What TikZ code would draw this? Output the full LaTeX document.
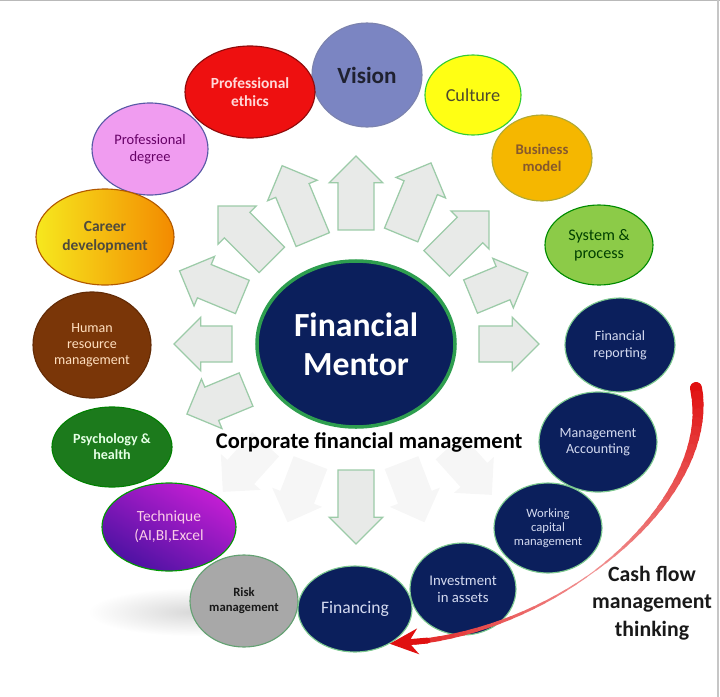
\documentclass[tikz,border=0pt]{standalone}
\usepackage{fontspec}
\setmainfont{Carlito}
\usepackage{xcolor}
\usepackage{tikz}
\usetikzlibrary{arrows.meta}
\usetikzlibrary{shapes.geometric}
\usetikzlibrary{shapes.arrows}
\usetikzlibrary{positioning}
\definecolor{azul}{HTML}{0B1F5C}
\definecolor{contorno}{HTML}{7CC98F}
\definecolor{verdeforte}{HTML}{2E9E4F}
\definecolor{textoazul}{HTML}{D4DAF0}
\definecolor{setaverde}{HTML}{9CCBA8}
\definecolor{setacinza}{HTML}{E8EAE8}
\definecolor{vermelho}{HTML}{E01010}
\definecolor{cvis}{HTML}{7B85C2}
\definecolor{ceth}{HTML}{EE1010}
\definecolor{cdeg}{HTML}{F09CF0}
\definecolor{ccarA}{HTML}{F6E81E}
\definecolor{ccarB}{HTML}{F38A00}
\definecolor{chrm}{HTML}{7A3608}
\definecolor{cpsy}{HTML}{1C7A1C}
\definecolor{ctecA}{HTML}{C41ED4}
\definecolor{ctecB}{HTML}{4C12A2}
\definecolor{crisk}{HTML}{A8A8A8}
\definecolor{csys}{HTML}{8CCB48}
\definecolor{cbm}{HTML}{F5B700}
\definecolor{ccul}{HTML}{FFFF14}
\newcommand{\tam}[2]{\fontsize{#1}{#2}\selectfont}
\tikzset{
  bolha/.style 2 args={ellipse, minimum width=#1, minimum height=#2, inner sep=0pt, align=center, line width=0.8pt},
  escura/.style={fill=azul, draw=contorno, text=textoazul},
  bloco/.style={single arrow, draw=setaverde, fill=setacinza, line width=0.9pt, inner xsep=0pt, inner ysep=0.435cm, single arrow head extend=0.22cm, minimum height=#1},
  bloco/.default=1.7cm,
  blocofraco/.style={bloco=#1, draw=none, fill=gray!7},
  blocofraco/.default=1.7cm,
  fluxo/.style={draw=vermelho!#1!white, line cap=round},
}

\begin{document}
\begin{tikzpicture}
  \useasboundingbox (0,0) rectangle (18,-17.425);
  % sombra
  \shade[inner color=gray!30, outer color=white] (4.8,-15.3) ellipse (2.6cm and 0.6cm);
  % centro
  \node[bolha={4.95cm}{4.15cm}, fill=azul, draw=verdeforte, line width=2.5pt, text=white, font=\bfseries\tam{24}{28}] (mentor) at (8.9,-8.6) {Financial\\Mentor};
  % setas em bloco
  \foreach \a/\l/\r [count=\k] in {0/1.5/3.6, 22.5/1.55/3.65, 45/1.85/3.55, 67.5/1.95/3.7, 90/1.85/3.55, 112.5/2.0/3.6, 135/1.9/3.7, 157.5/1.7/3.7, 180/1.45/3.6, 202.5/1.6/3.55, 270/1.85/3.85}
    \node[bloco=\l cm, rotate=\a] (bl\k) at ([shift={(\a:\r)}]mentor.center) {};
  \foreach \a/\r [count=\k] in {228/3.95, 249/3.75, 291/3.75, 312/4.05}
    \node[blocofraco=1.6cm, rotate=\a] (bf\k) at ([shift={(\a:\r)}]mentor.center) {};
  \node[below=0.1cm of mentor, xshift=0.33cm, inner sep=0pt, font=\bfseries\tam{16}{19}] (cfm) {Corporate financial management};
  % bolhas
  \node[bolha={2.75cm}{2.6cm}, fill=cvis, draw=cvis!70!gray, text=cvis!25!black, font=\bfseries\tam{16.5}{19}] (vis) at (9.175,-1.875) {Vision};
  \node[bolha={3.25cm}{2.3cm}, fill=ceth, draw=ceth!60!black, text=red!15!white, font=\bfseries\tam{11}{13}] (eth) at (6.25,-2.3) {Professional\\ethics};
  \node[bolha={2.9cm}{2.3cm}, fill=cdeg, draw=blue!30!gray, text=violet!80!black, font=\tam{10.3}{12.5}] (deg) at (3.75,-3.725) {Professional\\degree};
  \node[bolha={3.45cm}{2.4cm}, left color=ccarA, right color=ccarB, draw=orange!70!black, text=black!80!yellow, font=\bfseries\tam{11}{13.5}] (car) at (2.625,-5.925) {Career\\development};
  \node[bolha={2.95cm}{2.65cm}, fill=chrm, draw=chrm!80!black, text=orange!25!white, font=\tam{10}{11.5}] (hrm) at (2.3,-8.625) {Human\\resource\\management};
  \node[bolha={3.0cm}{2.0cm}, fill=cpsy, draw=green!50!black, text=green!10!white, font=\bfseries\tam{10}{11.5}] (psy) at (2.8,-11.175) {Psychology \&\\health};
  \node[bolha={3.35cm}{2.2cm}, left color=ctecA, right color=ctecB, shading angle=-30, draw=green!60!black, text=magenta!20!white, font=\tam{11}{13.5}] (tec) at (4.225,-13.175) {Technique\\(AI,BI,Excel};
  \node[bolha={2.7cm}{2.3cm}, fill=crisk, draw=contorno!80!black, text=black!90, font=\bfseries\tam{9}{10.5}] (risk) at (6.1,-15.025) {Risk\\management};
  \node[bolha={2.85cm}{2.15cm}, escura, font=\tam{12.5}{14}] (fin) at (8.875,-15.225) {Financing};
  \node[bolha={2.65cm}{2.3cm}, escura, font=\tam{10.5}{12}] (inv) at (11.575,-14.725) {Investment\\in assets};
  \node[bolha={2.7cm}{2.25cm}, escura, font=\tam{9}{10}] (wcm) at (13.7,-13.2) {Working\\capital\\management};
  \node[bolha={2.95cm}{2.5cm}, escura, font=\tam{10}{11.5}] (ma) at (14.95,-11.05) {Management\\Accounting};
  \node[bolha={2.75cm}{2.35cm}, escura, font=\tam{10}{12}] (fr) at (15.5,-8.625) {Financial\\reporting};
  \node[bolha={2.7cm}{2.0cm}, fill=csys, draw=green!55!black, text=green!25!black, font=\tam{11.5}{13}] (sys) at (14.975,-6.125) {System \&\\process};
  \node[bolha={2.5cm}{2.15cm}, fill=cbm, draw=olive!70, text=brown!70!black, font=\bfseries\tam{10.5}{12.5}] (bm) at (13.55,-3.95) {Business\\model};
  \node[bolha={2.4cm}{2.0cm}, fill=ccul, draw=green!60!gray, text=olive!40!black, font=\tam{13}{15}] (cul) at (11.825,-2.375) {Culture};
  % fluxo de caixa
  \node[font=\bfseries\tam{15.5}{19.5}, align=center, text=black!90] (cft) at (16.3,-15.07) {Cash flow\\management\\thinking};
  \coordinate (cfa) at (17.4,-9.7);
  \path (cfa) .. controls +(0.55,-2.75) and +(4.2,0.1) .. (fin.-45)
    \foreach \i [evaluate=\i as \p using \i/40] in {0,...,40} {coordinate[pos=\p] (cf\i)};
  \foreach \i in {0,...,37} {
    \pgfmathsetmacro{\t}{\i/40}
    \pgfmathsetmacro{\w}{\t<0.55 ? 8.5-14.2*\t : 0.7+8*(\t-0.55)}
    \pgfmathtruncatemacro{\m}{\t<0.55 ? 100-100*\t : 45+120*(\t-0.55)}
    \pgfmathtruncatemacro{\j}{\i+1}
    \draw[fluxo=\m, line width=\w pt] (cf\i) -- (cf\j);
  }
  \draw[fluxo=100, line width=4.2pt, -{Stealth[length=20pt,width=18pt]}] (cf37) -- (cf40);
  % moldura
  \draw[gray!55, line width=1.2pt] (0,0) -- (18,0);
  \draw[gray!45, line width=1pt] (17.95,0) -- (17.95,-17.425);
\end{tikzpicture}
\end{document}
